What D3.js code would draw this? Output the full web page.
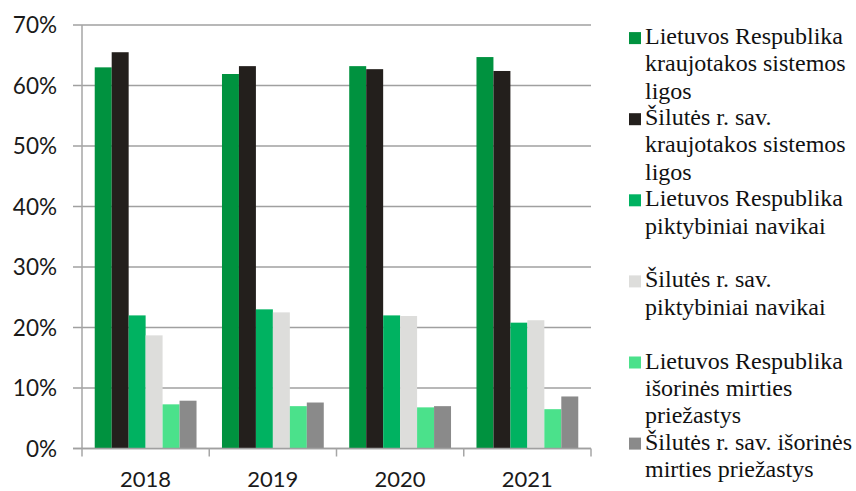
<!DOCTYPE html>
<html>
<head>
<meta charset="utf-8">
<script src="https://cdn.jsdelivr.net/npm/d3@7"></script>
<style>
  body { margin: 0; background: #fff; }
  svg { display: block; }
  .ylab { font-family: Lato, "Open Sans", sans-serif; font-size: 22.5px; fill: #1a1a1a; }
  .xlab { font-family: Lato, "Open Sans", sans-serif; font-size: 22px; fill: #1a1a1a; }
  .leg { font-family: "Liberation Serif", "Times New Roman", serif; font-size: 24px; fill: #111; }
</style>
</head>
<body>
<svg id="chart" width="856" height="491"></svg>
<script>
var years = ["2018", "2019", "2020", "2021"];
var seriesNames = [
  "Lietuvos Respublika kraujotakos sistemos ligos",
  "Šilutės r. sav. kraujotakos sistemos ligos",
  "Lietuvos Respublika piktybiniai navikai",
  "Šilutės r. sav. piktybiniai navikai",
  "Lietuvos Respublika išorinės mirties priežastys",
  "Šilutės r. sav. išorinės mirties priežastys"
];
// legend text as it wraps in the picture
var legendLines = [
  ["Lietuvos Respublika", "kraujotakos sistemos", "ligos"],
  ["Šilutės r. sav.", "kraujotakos sistemos", "ligos"],
  ["Lietuvos Respublika", "piktybiniai navikai"],
  ["Šilutės r. sav.", "piktybiniai navikai"],
  ["Lietuvos Respublika", "išorinės mirties", "priežastys"],
  ["Šilutės r. sav. išorinės", "mirties priežastys"]
];
var colors = ["#00923f", "#231f1c", "#00b261", "#dddddb", "#4be18b", "#8a8a8a"];

// values in %, one array per series, in year order
var ltKraujotakos = [63.0, 61.9, 63.2, 64.7];
var silKraujotakos = [65.5, 63.2, 62.7, 62.4];
var ltNavikai = [22.0, 23.0, 22.0, 20.8];
var silNavikai = [18.7, 22.5, 21.9, 21.2];
var ltIsorines = [7.3, 7.0, 6.8, 6.5];
var silIsorines = [7.9, 7.6, 7.0, 8.6];
var seriesValues = [ltKraujotakos, silKraujotakos, ltNavikai, silNavikai, ltIsorines, silIsorines];

var yTicks = [0, 10, 20, 30, 40, 50, 60, 70];

var svg = d3.select("#chart");
var plotLeft = 82, plotRight = 591, plotTop = 25, plotBottom = 448.5;

var x0 = d3.scaleBand().domain(years).range([plotLeft, plotRight]).paddingInner(0).paddingOuter(0);
var x1 = d3.scaleBand().domain(d3.range(seriesNames.length))
  .range([0, x0.bandwidth()]).paddingInner(0).paddingOuter(0.75);
var y = d3.scaleLinear().domain([0, 70]).range([plotBottom, plotTop]);

// gridlines + y tick marks
svg.append("g").selectAll("line")
  .data(yTicks)
  .join("line")
  .attr("x1", plotLeft - 9).attr("x2", plotRight)
  .attr("y1", function(d) { return y(d); }).attr("y2", function(d) { return y(d); })
  .attr("stroke", "#a0a0a0").attr("stroke-width", 1.5);

svg.append("g").selectAll("text")
  .data(yTicks)
  .join("text")
  .attr("class", "ylab")
  .attr("x", 57)
  .attr("y", function(d) { return y(d); })
  .attr("dy", "0.36em")
  .attr("text-anchor", "end")
  .text(function(d) { return d + "%"; });

// bars
var groups = svg.append("g").selectAll("g")
  .data(years)
  .join("g")
  .attr("transform", function(d) { return "translate(" + x0(d) + ",0)"; });

groups.selectAll("rect")
  .data(function(yr, yi) {
    return seriesValues.map(function(vals, si) { return {s: si, v: vals[yi]}; });
  })
  .join("rect")
  .attr("x", function(d) { return x1(d.s); })
  .attr("width", x1.bandwidth())
  .attr("y", function(d) { return y(d.v); })
  .attr("height", function(d) { return y(0) - y(d.v); })
  .attr("fill", function(d) { return colors[d.s]; });

// axes lines
svg.append("line")
  .attr("x1", plotLeft).attr("x2", plotLeft).attr("y1", plotTop).attr("y2", plotBottom)
  .attr("stroke", "#a6a6a6").attr("stroke-width", 1.5);
svg.append("line")
  .attr("x1", plotLeft - 9).attr("x2", plotRight).attr("y1", plotBottom).attr("y2", plotBottom)
  .attr("stroke", "#a0a0a0").attr("stroke-width", 1.5);

var catEdges = years.map(function(d) { return x0(d); }).concat([plotRight]);
svg.append("g").selectAll("line")
  .data(catEdges)
  .join("line")
  .attr("x1", function(d) { return d; }).attr("x2", function(d) { return d; })
  .attr("y1", plotBottom).attr("y2", plotBottom + 8)
  .attr("stroke", "#a6a6a6").attr("stroke-width", 1.5);

svg.append("g").selectAll("text")
  .data(years)
  .join("text")
  .attr("class", "xlab")
  .attr("x", function(d) { return x0(d) + x0.bandwidth() / 2; })
  .attr("y", 487)
  .attr("text-anchor", "middle")
  .text(function(d) { return d; });

// legend
var leg = svg.append("g").selectAll("g")
  .data(legendLines)
  .join("g")
  .attr("transform", function(d, i) { return "translate(629," + (44.1 + i * 81.1) + ")"; });

leg.append("rect")
  .attr("x", 0).attr("y", -12)
  .attr("width", 12).attr("height", 12)
  .attr("fill", function(d, i) { return colors[i]; });

leg.append("text")
  .attr("class", "leg")
  .selectAll("tspan")
  .data(function(d) { return d; })
  .join("tspan")
  .attr("x", 16)
  .attr("y", function(d, i) { return i * 27.3; })
  .text(function(d) { return d; });
</script>
</body>
</html>
